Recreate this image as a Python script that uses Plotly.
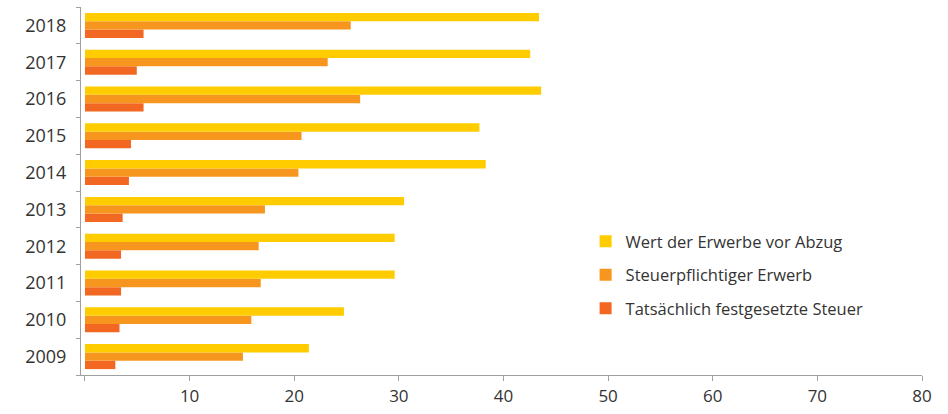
import plotly.graph_objects as go

years = ["2009", "2010", "2011", "2012", "2013", "2014", "2015", "2016", "2017", "2018"]
wert_vor_abzug = [21.4, 24.75, 29.6, 29.6, 30.5, 38.3, 37.7, 43.6, 42.55, 43.4]
steuerpfl_erwerb = [15.1, 15.9, 16.8, 16.6, 17.2, 20.4, 20.7, 26.3, 23.2, 25.4]
festgesetzte_steuer = [2.9, 3.3, 3.45, 3.45, 3.6, 4.2, 4.4, 5.6, 4.95, 5.6]

names = ["Wert der Erwerbe vor Abzug", "Steuerpflichtiger Erwerb", "Tatsächlich festgesetzte Steuer"]
colors = ["#FFCC00", "#F7961E", "#F26722"]
tick_vals = [0, 10, 20, 30, 40, 50, 60, 70, 80]
tick_text = ["", "10", "20", "30", "40", "50", "60", "70", "80"]

fig = go.Figure()
series = [festgesetzte_steuer, steuerpfl_erwerb, wert_vor_abzug]
for i, vals in enumerate(series):
    idx = 2 - i
    fig.add_trace(go.Bar(
        y=years, x=vals, orientation="h", name=names[idx],
        marker=dict(color=colors[idx], line=dict(width=0)),
        legendgroup=names[idx], legendrank=idx + 1,
    ))

fig.update_layout(
    width=948, height=414,
    margin=dict(l=81, r=26, t=7, b=36),
    plot_bgcolor="white", paper_bgcolor="white",
    barmode="group", bargap=0.32, bargroupgap=0,
    font=dict(family="Open Sans", color="#333333"),
    showlegend=True,
    legend=dict(
        x=0.6, y=0.41, xanchor="left", yanchor="top",
        traceorder="grouped", tracegroupgap=9,
        font=dict(size=16.5, color="#333333"),
        bgcolor="rgba(0,0,0,0)",
    ),
    xaxis=dict(
        range=[-0.38, 80], tickvals=tick_vals, ticktext=tick_text,
        showline=True, linecolor="#A0A0A0", linewidth=1.2,
        ticks="outside", ticklen=5, tickcolor="#A0A0A0",
        showgrid=False, zeroline=False,
        tickfont=dict(size=17, color="#333333"),
    ),
    yaxis=dict(
        type="category",
        showline=True, linecolor="#A0A0A0", linewidth=1.2,
        ticks="outside", ticklen=4, tickcolor="#A0A0A0",
        tickson="boundaries",
        showgrid=False, zeroline=False,
        tickfont=dict(size=18, color="#333333"),
        ticklabelstandoff=10,
    ),
)

fig.write_html("out.html")
